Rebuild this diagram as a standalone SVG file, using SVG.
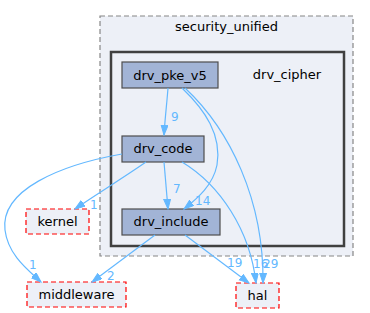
<svg xmlns="http://www.w3.org/2000/svg" width="370" height="313" viewBox="0 0 370 313">
<style>
text{font-family:"DejaVu Sans",sans-serif;font-size:13px;fill:#000}
.lbl{fill:#63b8ff;font-size:12px}
.e{fill:none;stroke:#63b8ff;stroke-width:1.2}
.dir{fill:#a2b4d6;stroke:#4d4d4d;stroke-width:1.2}
.ext{fill:#edf0f7;stroke:#ff0000;stroke-width:1.2;stroke-dasharray:5,3}
</style>
<defs>
<marker id="ah" markerUnits="userSpaceOnUse" markerWidth="11" markerHeight="8" refX="10" refY="3.5" orient="auto">
<path d="M0,0 L10,3.5 L0,7 z" fill="#63b8ff" stroke="#63b8ff"/>
</marker>
</defs>
<rect width="370" height="313" fill="#ffffff"/>
<g id="cluster_security_unified">
<rect x="100" y="16" width="253" height="240" fill="#edf0f7" stroke="#868686" stroke-width="1.2" stroke-dasharray="5,3"/>
<text x="226.5" y="31" text-anchor="middle">security_unified</text>
</g>
<g id="cluster_drv_cipher">
<rect x="111" y="52" width="233" height="194" fill="#edf0f7" stroke="#404040" stroke-width="2.5"/>
<text x="287" y="79" text-anchor="middle">drv_cipher</text>
</g>
<g id="node_drv_pke_v5">
<rect class="dir" x="122" y="62" width="96" height="26"/>
<text x="170" y="79.5" text-anchor="middle">drv_pke_v5</text>
</g>
<g id="node_drv_code">
<rect class="dir" x="122" y="136" width="82" height="26"/>
<text x="163" y="153" text-anchor="middle">drv_code</text>
</g>
<g id="node_drv_include">
<rect class="dir" x="122" y="209" width="98" height="26"/>
<text x="171" y="226" text-anchor="middle">drv_include</text>
</g>
<g id="node_kernel">
<rect class="ext" x="26" y="209" width="63" height="25"/>
<text x="57.5" y="226" text-anchor="middle">kernel</text>
</g>
<g id="node_middleware">
<rect class="ext" x="27" y="282" width="99" height="25"/>
<text x="76.5" y="299" text-anchor="middle">middleware</text>
</g>
<g id="node_hal">
<rect class="ext" x="236" y="283" width="43" height="25"/>
<text x="257.5" y="300" text-anchor="middle">hal</text>
</g>
<g id="edges">
<path class="e" marker-end="url(#ah)" d="M168,88 C167,102 165,118 164,135"/>
<text class="lbl" x="171" y="121">9</text>
<path class="e" marker-end="url(#ah)" d="M182,88 C205,110 222,135 217,165 C213,185 198,198 184,209"/>
<text class="lbl" x="195" y="205">14</text>
<path class="e" marker-end="url(#ah)" d="M185,88 C230,130 264,200 263,283"/>
<text class="lbl" x="263" y="268">29</text>
<path class="e" marker-end="url(#ah)" d="M164,162 L168,209"/>
<text class="lbl" x="173" y="193">7</text>
<path class="e" marker-end="url(#ah)" d="M182,162 C220,185 250,230 256,283"/>
<text class="lbl" x="253" y="268">16</text>
<path class="e" marker-end="url(#ah)" d="M146,162 C120,180 95,195 75,209"/>
<text class="lbl" x="90" y="209">1</text>
<path class="e" marker-end="url(#ah)" d="M122,154 C60,165 0,190 5,230 C8,255 28,270 41,282"/>
<text class="lbl" x="29" y="269">1</text>
<path class="e" marker-end="url(#ah)" d="M155,235 L92,282"/>
<text class="lbl" x="107" y="280">2</text>
<path class="e" marker-end="url(#ah)" d="M185,235 L249,283"/>
<text class="lbl" x="227" y="267">19</text>
</g>
</svg>
